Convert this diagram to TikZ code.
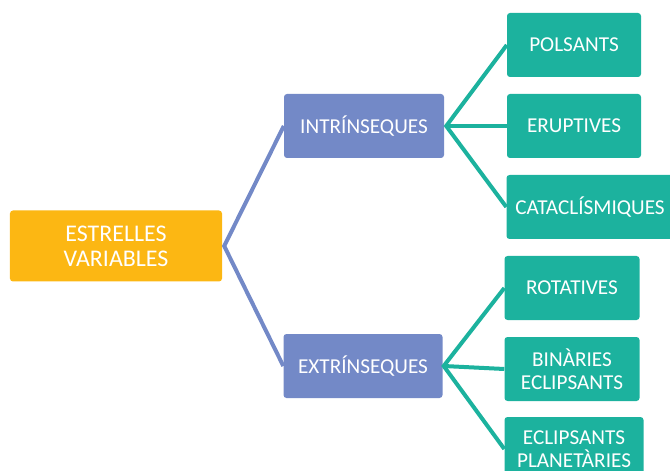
\documentclass[tikz,border=0pt]{standalone}
\usepackage{fontspec}
\setmainfont{Carlito}
\definecolor{rootc}{RGB}{252,183,19}
\definecolor{midc}{RGB}{115,137,199}
\definecolor{leafc}{RGB}{28,178,158}
\begin{document}
\begin{tikzpicture}[x=1bp,y=-1bp,
  box/.style={rounded corners=3bp, text=white, align=center, inner sep=0pt,
    font=\fontsize{21.3}{23.5}\selectfont, minimum height=64bp},
  rootbox/.style={box, fill=rootc, minimum width=212bp, minimum height=71bp,
    font=\fontsize{24}{25}\selectfont},
  midbox/.style={box, fill=midc, minimum width=160bp},
  leafbox/.style={box, fill=leafc, minimum width=135bp},
  midline/.style={draw=midc, line width=4bp},
  leafline/.style={draw=leafc, line width=4bp}]
\useasboundingbox (0,0) rectangle (670,471);
\clip (0,0) rectangle (670,471);
\node[rootbox] (root) at (116,246) {ESTRELLES\\VARIABLES};
\node[midbox] (intr) at (364,126) {INTRÍNSEQUES};
\node[midbox, minimum width=159bp] (extr) at (363,366) {EXTRÍNSEQUES};
\node[leafbox, minimum width=134bp] (pol) at (574,45) {POLSANTS};
\node[leafbox, minimum width=134bp] (eru) at (574,126) {ERUPTIVES};
\node[leafbox, minimum width=167bp] (cat) at (590,207) {CATACLÍSMIQUES};
\node[leafbox] (rot) at (572,288) {ROTATIVES};
\node[leafbox] (bin) at (572,369) {BINÀRIES\\ECLIPSANTS};
\node[leafbox, minimum width=139bp] (ecl) at (574,449) {ECLIPSANTS\\PLANETÀRIES};
\coordinate (rv) at ([xshift=2bp]root.east);
\coordinate (iv) at ([xshift=2bp]intr.east);
\coordinate (ev) at ([xshift=1bp]extr.east);
\draw[midline] (intr.west) -- (rv) -- (extr.west);
\draw[leafline] (pol.west) -- (iv) -- (cat.west);
\draw[leafline] (iv) -- (eru.west);
\draw[leafline] (rot.west) -- (ev) -- (ecl.west);
\draw[leafline] (ev) -- (bin.west);
\end{tikzpicture}
\end{document}
